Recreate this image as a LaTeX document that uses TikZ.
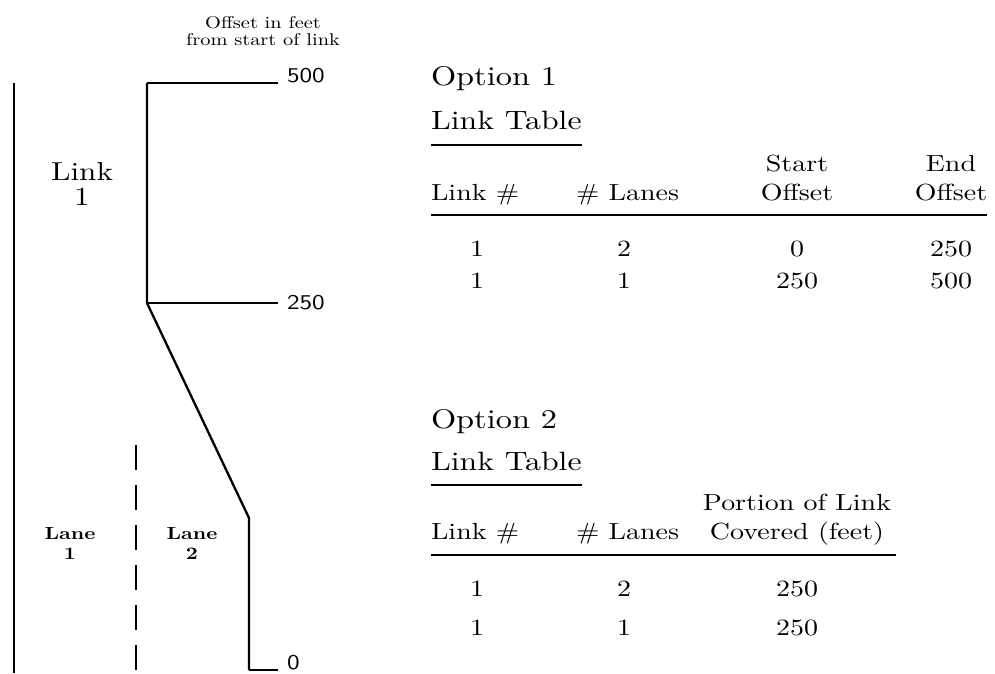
\documentclass[tikz,border=0pt]{standalone}
\usepackage{fontspec}
\setmainfont{lmroman10-regular.otf}[FakeStretch=1.2,BoldFont=lmroman10-bold.otf]
\setsansfont{lmsans10-regular.otf}[FakeStretch=1.2]
\usepackage{tikz}
\usetikzlibrary{scopes}

\tikzset{
  roadline/.style={line width=2.3pt,line join=miter},
  tickline/.style={line width=1.4pt,shorten >=9pt},
  tabrule/.style={line width=1.5pt},
  lanedash/.style={line width=1.3pt,dash pattern=on 25pt off 15pt},
  captxt/.style={anchor=base,font=\fontsize{17}{18}\selectfont},
  offlbl/.style={anchor=base west,font=\sffamily\fontsize{21}{24}\selectfont},
  plantxt/.style={anchor=base,font=\fontsize{26}{30}\selectfont},
  lanetxt/.style={anchor=base,font=\bfseries\fontsize{17.5}{20}\selectfont},
  headtxt/.style={anchor=base west,font=\fontsize{26.5}{30}\selectfont},
  opttxt/.style={anchor=base west,font=\fontsize{27}{30}\selectfont},
  colleft/.style={anchor=base west,font=\fontsize{23.3}{27}\selectfont},
  coltxt/.style={anchor=base,font=\fontsize{23.3}{27}\selectfont}
}

\begin{document}
\begin{tikzpicture}[x=1pt,y=-1pt]
\useasboundingbox (0,0) rectangle (995,673);

\begin{scope}[every node/.style={inner sep=0pt,outer sep=0pt}]
    \node[captxt] (cap1) at (263,28) {Offset in feet};
    \node[captxt] (cap2) at (263,45) {from start of link};
    \node[offlbl] (o500) at (287,82) {500};
    \node[offlbl] (o250) at (287,309) {250};
    \node[offlbl] (o0) at (287,669) {0};
    \node[plantxt] (lnk) at (82,180) {Link};
    \node[plantxt] (lnkno) at (82,205) {1};
    \node[lanetxt] (lane1) at (70,539) {Lane};
    \node[lanetxt] (lane1no) at (70,559) {1};
    \node[lanetxt] (lane2) at (192,539) {Lane};
    \node[lanetxt] (lane2no) at (192,559) {2};
\end{scope}

\coordinate (top) at (147,83);
\coordinate (mid) at (147,303);
\coordinate (bend) at (249,518);
\coordinate (bot) at (249,670);
\coordinate (edgetop) at (14,83);
\coordinate (edgebot) at (14,673);
\coordinate (dashtop) at (136,445);
\coordinate (dashbot) at (136,673);

\draw[roadline] (edgetop) -- (edgebot);
\draw[roadline] (top) -- (mid) -- (bend) -- (bot);
\draw[tickline] (top) -- (top -| o500.west);
\draw[tickline] (mid) -- (mid -| o250.west);
\draw[tickline] (bot) -- (bot -| o0.west);
\draw[lanedash] (dashtop) -- (dashbot);

\begin{scope}[every node/.style={inner sep=0pt,outer sep=0pt}]
    \node[opttxt] (opt1) at (431,85) {Option 1};
    \node[headtxt] (tab1) at (431,129) {Link Table};
    \node[colleft] (h1a) at (431,200) {Link \#};
    \node[colleft] (h1b) at (576,200) {\# Lanes};
    \node[coltxt] (h1c) at (797,171) {Start};
    \node[coltxt] (h1d) at (797,200) {Offset};
    \node[coltxt] (h1e) at (951,171) {End};
    \node[coltxt] (h1f) at (951,200) {Offset};
    \node[coltxt] (r11) at (477,256) {1};
    \node[coltxt] (r12) at (624,256) {2};
    \node[coltxt] (r13) at (797,256) {0};
    \node[coltxt] (r14) at (951,256) {250};
    \node[coltxt] (r21) at (477,288) {1};
    \node[coltxt] (r22) at (624,288) {1};
    \node[coltxt] (r23) at (797,288) {250};
    \node[coltxt] (r24) at (951,288) {500};

    \node[opttxt] (opt2) at (431,428) {Option 2};
    \node[headtxt] (tab2) at (431,470) {Link Table};
    \node[colleft] (h2a) at (431,539) {Link \#};
    \node[colleft] (h2b) at (576,539) {\# Lanes};
    \node[coltxt] (h2c) at (797,510) {Portion of Link};
    \node[coltxt] (h2d) at (797,539) {Covered (feet)};
    \node[coltxt] (s11) at (477,596) {1};
    \node[coltxt] (s12) at (624,596) {2};
    \node[coltxt] (s13) at (797,596) {250};
    \node[coltxt] (s21) at (477,635) {1};
    \node[coltxt] (s22) at (624,635) {1};
    \node[coltxt] (s23) at (797,635) {250};
\end{scope}

\draw[tabrule] ([yshift=-16pt]tab1.base west) -- ([yshift=-16pt]tab1.base east);
\draw[tabrule] ([yshift=-15pt]h1a.base west) -- ([yshift=-15pt]h1f.base east);
\draw[tabrule] ([yshift=-15pt]tab2.base west) -- ([yshift=-15pt]tab2.base east);
\draw[tabrule] ([yshift=-16pt]h2a.base west) -- ([xshift=12pt,yshift=-16pt]h2d.base east);
\end{tikzpicture}
\end{document}
